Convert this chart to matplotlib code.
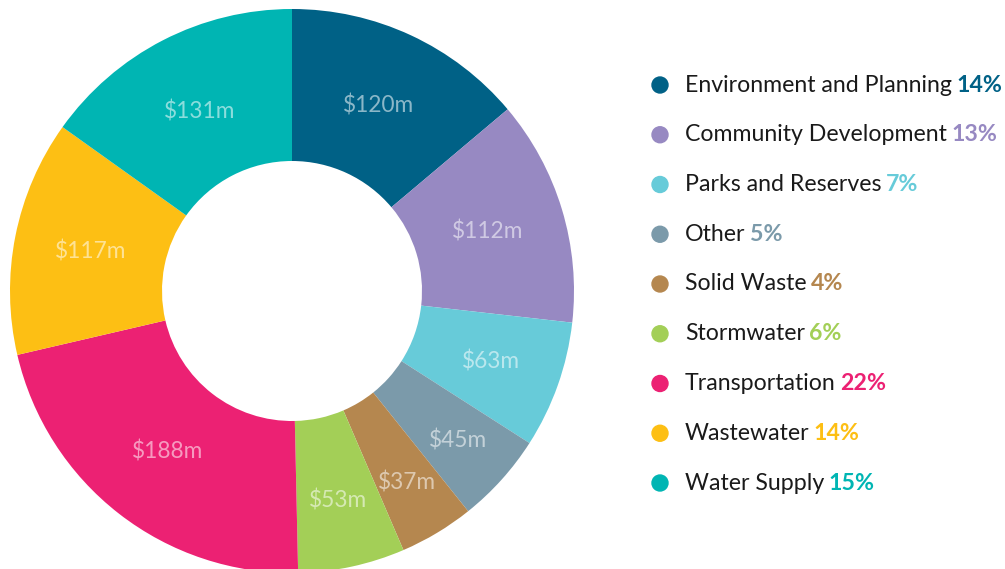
import numpy as np
import matplotlib.pyplot as plt
from matplotlib.patches import Ellipse
from matplotlib.text import Annotation

# ================= DATA ================= #
CATEGORIES = [
    "Environment and Planning",
    "Community Development",
    "Parks and Reserves",
    "Other",
    "Solid Waste",
    "Stormwater",
    "Transportation",
    "Wastewater",
    "Water Supply",
]
SPEND_M = [120, 112, 63, 45, 37, 53, 188, 117, 131]
PERCENTS = [14, 13, 7, 5, 4, 6, 22, 14, 15]

COLORS = [
    "#006186", "#9789c2", "#67cbd9", "#7b9aaa", "#b5874f",
    "#a3cf57", "#ec2173", "#fdbf14", "#00b5b3",
]
# label distance from centre (fraction of outer radius), per slice
LABEL_R = [0.727, 0.723, 0.75, 0.79, 0.79, 0.76, 0.72, 0.727, 0.716]

W, H = 1005, 569
fig = plt.figure(figsize=(W / 100, H / 100), dpi=100)

# ================= DONUT ================= #
cx, cy, r = 292, 278, 282
ax = fig.add_axes([(cx - r) / W, (cy - r) / H, 2 * r / W, 2 * r / H])
wedges, _ = ax.pie(
    SPEND_M,
    colors=COLORS,
    startangle=90,
    counterclock=False,
    radius=1.0,
    wedgeprops=dict(width=1 - 130 / 282, linewidth=0),
)
ax.set_xlim(-1, 1)
ax.set_ylim(-1, 1)
ax.set_aspect("equal")
ax.axis("off")

# value labels in the ring
total = sum(SPEND_M)
start = 0.0
for v, rr in zip(SPEND_M, LABEL_R):
    mid = start + v / 2
    ang = np.deg2rad(90 - mid / total * 360)
    ax.text(rr * np.cos(ang), rr * np.sin(ang), f"${v}m",
            ha="center", va="center", fontsize=16.3, family="Lato",
            color="white", alpha=0.55)
    start += v

# ================= LEGEND ================= #
for i, (name, pct, col) in enumerate(zip(CATEGORIES, PERCENTS, COLORS)):
    y = 1 - (85 + i * 49.75) / H
    fig.patches.append(Ellipse((660 / W, y), 16 / W, 16 / H,
                               transform=fig.transFigure, color=col, figure=fig))
    t = fig.text(685 / W, y, name, ha="left", va="center",
                 fontsize=16.7, family="Lato", color="#1a1a1a")
    fig.add_artist(Annotation(
        f"{pct}%", xy=(1, 0), xycoords=t, xytext=(3, 0),
        textcoords="offset points", ha="left", va="bottom",
        fontsize=16.7, family="Lato", fontweight="bold", color=col))

fig.savefig("out.png", dpi=100)
